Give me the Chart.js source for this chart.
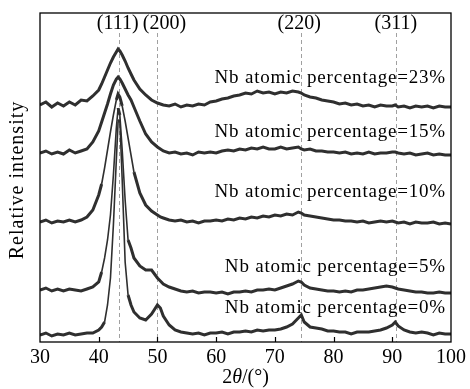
<!DOCTYPE html>
<html>
<head>
<meta charset="utf-8">
<script src="https://cdn.jsdelivr.net/npm/chart.js@4/dist/chart.umd.min.js"></script>
<style>
  body { margin: 0; background: #fff; }
  canvas { display: block; }
</style>
</head>
<body>
<canvas id="xrdChart" width="470" height="389"></canvas>
<script>
// 2theta positions (deg) shared by all patterns
const twoTheta = [30,31,32,33,34,35,36,37,38,39,
  40,40.5,41,41.5,42,42.5,43,43.3,43.6,44,44.5,45,45.5,46,
  47,48,49,50,50.5,51,
  52,53,54,55,56,57,58,59,60,61,62,63,64,65,66,67,68,69,70,71,72,73,74,
  74.5,
  75,76,77,78,79,80,81,82,83,84,85,86,87,88,89,90,
  90.5,
  91,92,93,94,95,96,97,98,99,100];

// relative intensity, curves already offset (arbitrary units)
const nb23 = [237,240,235,239,236,240,237,242,241,246,
  252,258,265,272,279,285,290,293,291,287,281,274,268,262,
  253,247,242,239,238,237,
  236,238,235,237,236,238,237,240,241,243,244,246,247,249,248,251,249,250,248,250,249,251,250,
  249,
  247,245,244,242,241,240,238,239,237,238,236,237,235,237,236,236,
  237,
  235,236,234,236,235,236,234,236,235,235];
const nb15 = [189,191,188,190,188,192,189,191,193,200,
  211,220,229,238,248,257,263,265,263,259,253,247,242,235,
  221,208,200,195,193,191,
  189,190,188,189,187,190,189,190,189,191,192,191,193,192,194,193,195,193,193,195,193,194,195,
  193,
  192,193,191,191,190,190,189,190,188,189,188,190,188,189,189,190,
  190,
  189,188,189,187,188,189,187,188,187,187];
const nb10 = [120,122,119,121,120,122,120,122,125,132,
  147,158,174,192,210,227,242,248,245,236,221,204,187,170,
  149,137,131,127,125,124,
  122,121,122,120,121,119,121,121,122,121,123,122,124,123,125,124,126,125,127,126,128,127,130,
  129,
  127,126,125,124,123,122,122,121,121,120,121,119,120,121,120,121,
  120,
  119,120,118,120,119,119,120,118,119,118];
const nb5 = [52,54,51,53,51,53,52,51,53,55,
  60,70,84,102,127,167,214,234,227,192,142,102,94,84,
  76,72,72,64,61,58,
  55,53,51,50,51,49,50,50,49,50,48,50,50,51,50,52,52,53,52,54,56,58,61,
  60,
  57,54,53,52,51,51,50,51,50,52,52,53,54,55,56,55,
  54,
  53,52,51,50,50,49,49,50,49,49];
const nb0 = [7,9,6,8,7,9,7,8,9,9,
  12,15,20,37,64,117,182,220,222,162,80,47,37,30,
  24,22,28,37,34,26,
  17,12,10,9,8,9,7,9,9,10,8,10,10,11,10,12,11,12,12,13,15,18,24,
  27,
  20,15,14,13,11,11,10,10,8,10,10,10,11,12,14,17,
  20,
  16,12,10,9,10,9,7,9,8,8];

const seriesNames = ['Nb atomic percentage=23%', 'Nb atomic percentage=15%',
  'Nb atomic percentage=10%', 'Nb atomic percentage=5%', 'Nb atomic percentage=0%'];
const seriesValues = [nb23, nb15, nb10, nb5, nb0];
// intensity level where each curve's caption sits
const captionLevels = [259, 205, 145, 70, 29];

const peakPositions = [43.4, 50.0, 74.5, 90.6];
const peakNames = ['(111)', '(200)', '(220)', '(311)'];

const serif = "'Liberation Serif', 'Times New Roman', serif";

const overlay = {
  id: 'overlay',
  beforeDatasetsDraw(chart) {
    const { ctx, chartArea } = chart;
    const x = chart.scales.x;
    ctx.save();
    ctx.strokeStyle = '#a0a0a0';
    ctx.lineWidth = 1;
    ctx.setLineDash([4, 3]);
    peakPositions.forEach(p => {
      const px = Math.round(x.getPixelForValue(p)) + 0.5;
      ctx.beginPath();
      ctx.moveTo(px, 33);
      ctx.lineTo(px, chartArea.bottom);
      ctx.stroke();
    });
    ctx.restore();
  },
  afterDatasetsDraw(chart) {
    const { ctx, chartArea } = chart;
    const x = chart.scales.x, y = chart.scales.y;
    ctx.save();

    // frame
    ctx.strokeStyle = '#000';
    ctx.lineWidth = 1.3;
    ctx.strokeRect(chartArea.left, chartArea.top, chartArea.right - chartArea.left, chartArea.bottom - chartArea.top);

    // inward ticks
    ctx.lineWidth = 1.2;
    for (let t = 40; t < 100; t += 10) {
      const px = Math.round(x.getPixelForValue(t)) + 0.5;
      ctx.beginPath();
      ctx.moveTo(px, chartArea.bottom);
      ctx.lineTo(px, chartArea.bottom - 5);
      ctx.stroke();
    }

    ctx.fillStyle = '#000';

    // peak names
    const nameShift = [-1, 7, -2, 0];
    ctx.font = '20px ' + serif;
    ctx.textAlign = 'center';
    ctx.textBaseline = 'middle';
    peakPositions.forEach((p, i) => {
      ctx.fillText(peakNames[i], x.getPixelForValue(p) + nameShift[i], 24);
    });

    // curve captions
    ctx.font = '19px ' + serif;
    ctx.letterSpacing = '0.8px';
    ctx.textAlign = 'right';
    ctx.textBaseline = 'alphabetic';
    seriesNames.forEach((name, i) => {
      ctx.fillText(name, chartArea.right - 5, y.getPixelForValue(captionLevels[i]));
    });
    ctx.letterSpacing = '0px';

    // y title
    ctx.save();
    ctx.translate(18, 180);
    ctx.rotate(-Math.PI / 2);
    ctx.font = '20px ' + serif;
    ctx.letterSpacing = '1px';
    ctx.textAlign = 'center';
    ctx.textBaseline = 'middle';
    ctx.fillText('Relative intensity', 0, 0);
    ctx.restore();

    // x title: 2θ/(°) with italic theta
    const parts = [['2', '20px '], ['θ', 'italic 20px '], ['/(°)', '20px ']];
    let total = 0;
    parts.forEach(pt => { ctx.font = pt[1] + serif; total += ctx.measureText(pt[0]).width; });
    let cx = (chartArea.left + chartArea.right) / 2 - total / 2;
    ctx.textAlign = 'left';
    ctx.textBaseline = 'alphabetic';
    parts.forEach(pt => {
      ctx.font = pt[1] + serif;
      ctx.fillText(pt[0], cx, 383);
      cx += ctx.measureText(pt[0]).width;
    });

    ctx.restore();
  }
};

// steep flanks of the sharp peaks look thinner in the original
const flankWidth = ctx => {
  const a = ctx.p0, b = ctx.p1;
  const steep = Math.abs(b.y - a.y) > 4 * Math.abs(b.x - a.x);
  return steep ? 1.6 : 3;
};

new Chart(document.getElementById('xrdChart'), {
  type: 'line',
  data: {
    datasets: seriesValues.map((vals, i) => ({
      label: seriesNames[i],
      data: twoTheta.map((t, k) => ({ x: t, y: vals[k] })),
      borderColor: '#2f2f2f',
      borderWidth: 3,
      segment: { borderWidth: flankWidth },
      pointRadius: 0,
      tension: 0,
      fill: false
    }))
  },
  options: {
    responsive: false,
    animation: false,
    layout: { padding: { left: 40, right: 15, top: 13, bottom: 0 } },
    plugins: { legend: { display: false }, tooltip: { enabled: false } },
    scales: {
      x: {
        type: 'linear',
        min: 30,
        max: 100,
        grid: { display: false, drawTicks: false },
        border: { display: false },
        ticks: {
          stepSize: 10,
          padding: 4,
          color: '#000',
          font: { family: serif, size: 20 }
        },
        afterFit(scale) { scale.height = 47; }
      },
      y: {
        display: false,
        min: 0,
        max: 329
      }
    }
  },
  plugins: [overlay]
});
</script>
</body>
</html>
